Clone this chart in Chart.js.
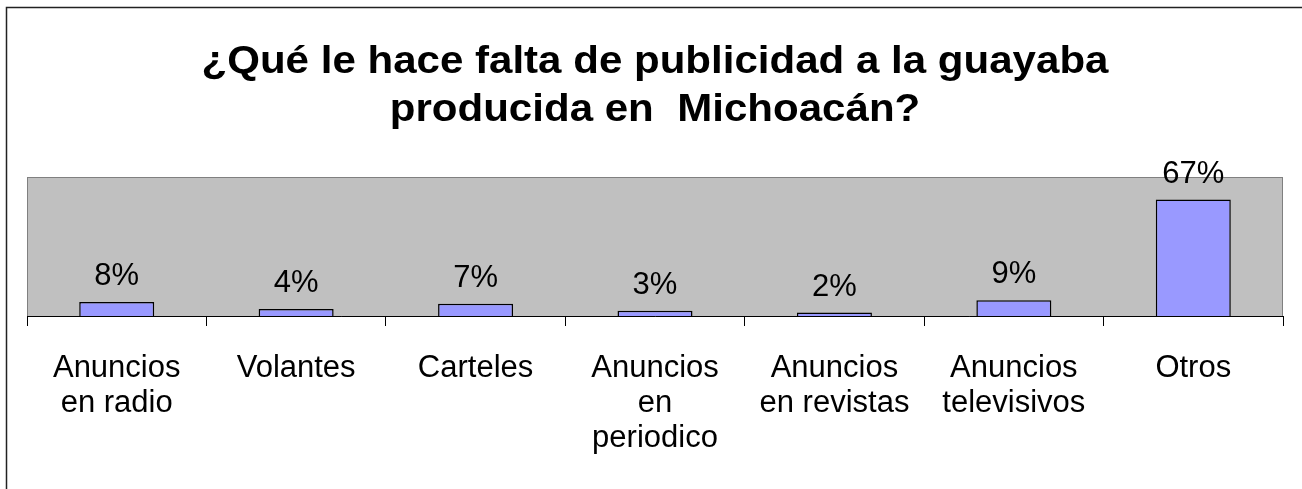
<!DOCTYPE html>
<html>
<head>
<meta charset="utf-8">
<script src="https://cdn.jsdelivr.net/npm/chart.js@4"></script>
<style>
    html, body { margin: 0; padding: 0; background: #ffffff; }
    canvas { display: block; }
</style>
</head>
<body>
<canvas id="guayabaChart" width="1302" height="489"></canvas>
<script>
const titleLines = ["¿Qué le hace falta de publicidad a la guayaba", "producida en  Michoacán?"];

const categories = [
    ["Anuncios", "en radio"],
    "Volantes",
    "Carteles",
    ["Anuncios", "en", "periodico"],
    ["Anuncios", "en revistas"],
    ["Anuncios", "televisivos"],
    "Otros"
];

const percentages = [8, 4, 7, 3, 2, 9, 67];

const fontFamily = "'Liberation Sans', Arial, sans-serif";

// gray plot area + the outer frame
const plotBackground = {
    id: "plotBackground",
    beforeDraw(chart) {
        const { ctx, chartArea } = chart;
        ctx.save();
        ctx.fillStyle = "#ffffff";
        ctx.fillRect(0, 0, chart.width, chart.height);

        ctx.fillStyle = "#c0c0c0";
        ctx.fillRect(chartArea.left, chartArea.top, chartArea.right - chartArea.left, chartArea.bottom - chartArea.top);
        ctx.strokeStyle = "#808080";
        ctx.lineWidth = 1;
        ctx.strokeRect(chartArea.left + 0.5, chartArea.top + 0.5, chartArea.right - chartArea.left - 1, chartArea.bottom - chartArea.top);

        ctx.strokeStyle = "#222222";
        ctx.lineWidth = 1.5;
        ctx.beginPath();
        ctx.moveTo(6.5, chart.height);
        ctx.lineTo(6.5, 7.5);
        ctx.lineTo(chart.width, 7.5);
        ctx.stroke();
        ctx.restore();
    }
};

// title is drawn a bit wider than the font, like the original
const stretchedTitle = {
    id: "stretchedTitle",
    afterDraw(chart) {
        const { ctx, chartArea } = chart;
        ctx.save();
        ctx.font = "bold 39px " + fontFamily;
        ctx.fillStyle = "#000000";
        ctx.textAlign = "center";
        ctx.textBaseline = "alphabetic";
        const sx = 907 / ctx.measureText(titleLines[0]).width;
        ctx.translate((chartArea.left + chartArea.right) / 2, 0);
        ctx.scale(sx, 1);
        ctx.fillText(titleLines[0], 0, 73);
        ctx.fillText(titleLines[1], 0, 121);
        ctx.restore();
    }
};

const valueLabels = {
    id: "valueLabels",
    afterDatasetsDraw(chart) {
        const { ctx } = chart;
        const meta = chart.getDatasetMeta(0);
        ctx.save();
        ctx.font = "31px " + fontFamily;
        ctx.fillStyle = "#000000";
        ctx.textAlign = "center";
        ctx.textBaseline = "alphabetic";
        meta.data.forEach((bar, i) => {
            ctx.fillText(percentages[i] + "%", bar.x, bar.y - 17);
        });
        ctx.restore();
    }
};

new Chart(document.getElementById("guayabaChart"), {
    type: "bar",
    data: {
        labels: categories,
        datasets: [{
            data: percentages,
            backgroundColor: "#9999ff",
            borderColor: "#000000",
            borderWidth: 1.5,
            categoryPercentage: 1,
            barPercentage: 0.418
        }]
    },
    options: {
        responsive: false,
        animation: false,
        layout: {
            padding: { left: 27, right: 19, top: 177, bottom: 0 }
        },
        plugins: {
            legend: { display: false },
            title: { display: false },
            tooltip: { enabled: false }
        },
        scales: {
            x: {
                offset: true,
                afterFit(scale) {
                    scale.height = 173;
                },
                grid: {
                    offset: true,
                    drawOnChartArea: false,
                    drawTicks: true,
                    tickLength: 10,
                    color: "#000000"
                },
                border: { color: "#000000", width: 1 },
                ticks: {
                    color: "#000000",
                    padding: 25,
                    maxRotation: 0,
                    autoSkip: false,
                    font: { family: fontFamily, size: 31, lineHeight: 1.13 }
                }
            },
            y: {
                display: false,
                min: 0,
                max: 80
            }
        }
    },
    plugins: [plotBackground, stretchedTitle, valueLabels]
});
</script>
</body>
</html>
